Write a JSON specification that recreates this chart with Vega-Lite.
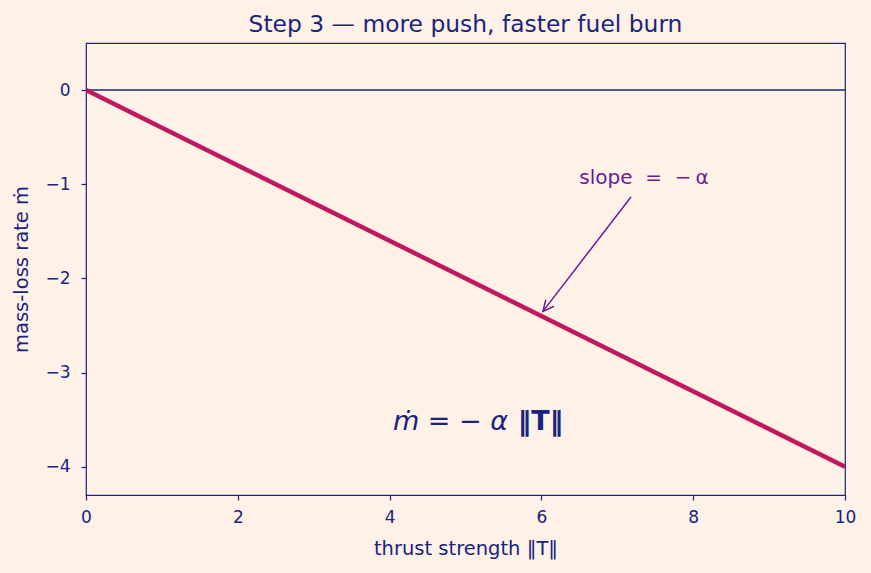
{
  "$schema": "https://vega.github.io/schema/vega-lite/v6.json",
  "width": 759,
  "height": 452,
  "autosize": "none",
  "padding": {"left": 86, "top": 43, "right": 26, "bottom": 78},
  "background": "#fef2e8",
  "config": {
    "view": {"stroke": "#1a237e", "strokeWidth": 1.2},
    "font": "DejaVu Sans",
    "axis": {
      "domain": false,
      "grid": false,
      "tickColor": "#1a237e",
      "tickSize": 5,
      "tickWidth": 1.2,
      "labelColor": "#1a237e",
      "labelFont": "DejaVu Sans",
      "labelFontSize": 17,
      "labelFlush": false,
      "labelOverlap": false,
      "titleColor": "#1a237e",
      "titleFont": "DejaVu Sans",
      "titleFontSize": 19.5,
      "titleFontWeight": "normal"
    },
    "title": {"color": "#1a237e", "font": "DejaVu Sans", "fontSize": 23.4, "fontWeight": "normal"}
  },
  "title": {"text": "Step 3 — more push, faster fuel burn", "offset": 6},
  "datasets": {
    "burn": [{"x": 0, "y": 0}, {"x": 10, "y": -4}],
    "zero": [{"y": 0}],
    "arrow": [
      {"seg": "shaft", "ord": 0, "x": 7.18, "y": -1.135},
      {"seg": "shaft", "ord": 1, "x": 6.02, "y": -2.35},
      {"seg": "head", "ord": 0, "x": 6.166, "y": -2.296},
      {"seg": "head", "ord": 1, "x": 6.02, "y": -2.35},
      {"seg": "head", "ord": 2, "x": 6.058, "y": -2.227}
    ],
    "slope": [{"x": 6.5, "y": -1.0, "label": "slope\u00a0\u00a0=\u00a0\u00a0−\u202fα"}],
    "f1": [{"x": 5.56, "y": -3.607, "label": "ṁ =  − α"}],
    "f2": [{"x": 5.69, "y": -3.607, "label": "‖T‖"}]
  },
  "layer": [
    {
      "data": {"name": "zero"},
      "mark": {"type": "rule", "color": "#1a237e", "strokeWidth": 1.5},
      "encoding": {
        "y": {"field": "y", "type": "quantitative", "scale": {"domain": [-4.3, 0.5], "nice": false, "zero": false}}
      }
    },
    {
      "data": {"name": "burn"},
      "mark": {"type": "line", "color": "#c2185b", "strokeWidth": 4.5, "clip": true},
      "encoding": {
        "x": {"field": "x", "type": "quantitative", "scale": {"domain": [0, 10], "nice": false},
              "axis": {"values": [0, 2, 4, 6, 8, 10], "format": "d", "title": "thrust strength ‖T‖", "titlePadding": 14, "labelPadding": 9}},
        "y": {"field": "y", "type": "quantitative", "scale": {"domain": [-4.3, 0.5], "nice": false, "zero": false},
              "axis": {"values": [-4, -3, -2, -1, 0], "format": "d", "title": "mass-loss rate ṁ", "titlePadding": 13, "labelPadding": 11}}
      }
    },
    {
      "data": {"name": "arrow"},
      "mark": {"type": "line", "color": "#6a1b9a", "strokeWidth": 1.5},
      "encoding": {
        "x": {"field": "x", "type": "quantitative"},
        "y": {"field": "y", "type": "quantitative"},
        "detail": {"field": "seg"},
        "order": {"field": "ord"}
      }
    },
    {
      "data": {"name": "slope"},
      "mark": {"type": "text", "color": "#6a1b9a", "fontSize": 20, "align": "left", "baseline": "alphabetic"},
      "encoding": {
        "x": {"field": "x", "type": "quantitative"},
        "y": {"field": "y", "type": "quantitative"},
        "text": {"field": "label"}
      }
    },
    {
      "data": {"name": "f1"},
      "mark": {"type": "text", "color": "#1a237e", "fontSize": 27, "fontStyle": "italic", "align": "right", "baseline": "alphabetic"},
      "encoding": {
        "x": {"field": "x", "type": "quantitative"},
        "y": {"field": "y", "type": "quantitative"},
        "text": {"field": "label"}
      }
    },
    {
      "data": {"name": "f2"},
      "mark": {"type": "text", "color": "#1a237e", "fontSize": 27, "fontWeight": "bold", "align": "left", "baseline": "alphabetic"},
      "encoding": {
        "x": {"field": "x", "type": "quantitative"},
        "y": {"field": "y", "type": "quantitative"},
        "text": {"field": "label"}
      }
    }
  ]
}
